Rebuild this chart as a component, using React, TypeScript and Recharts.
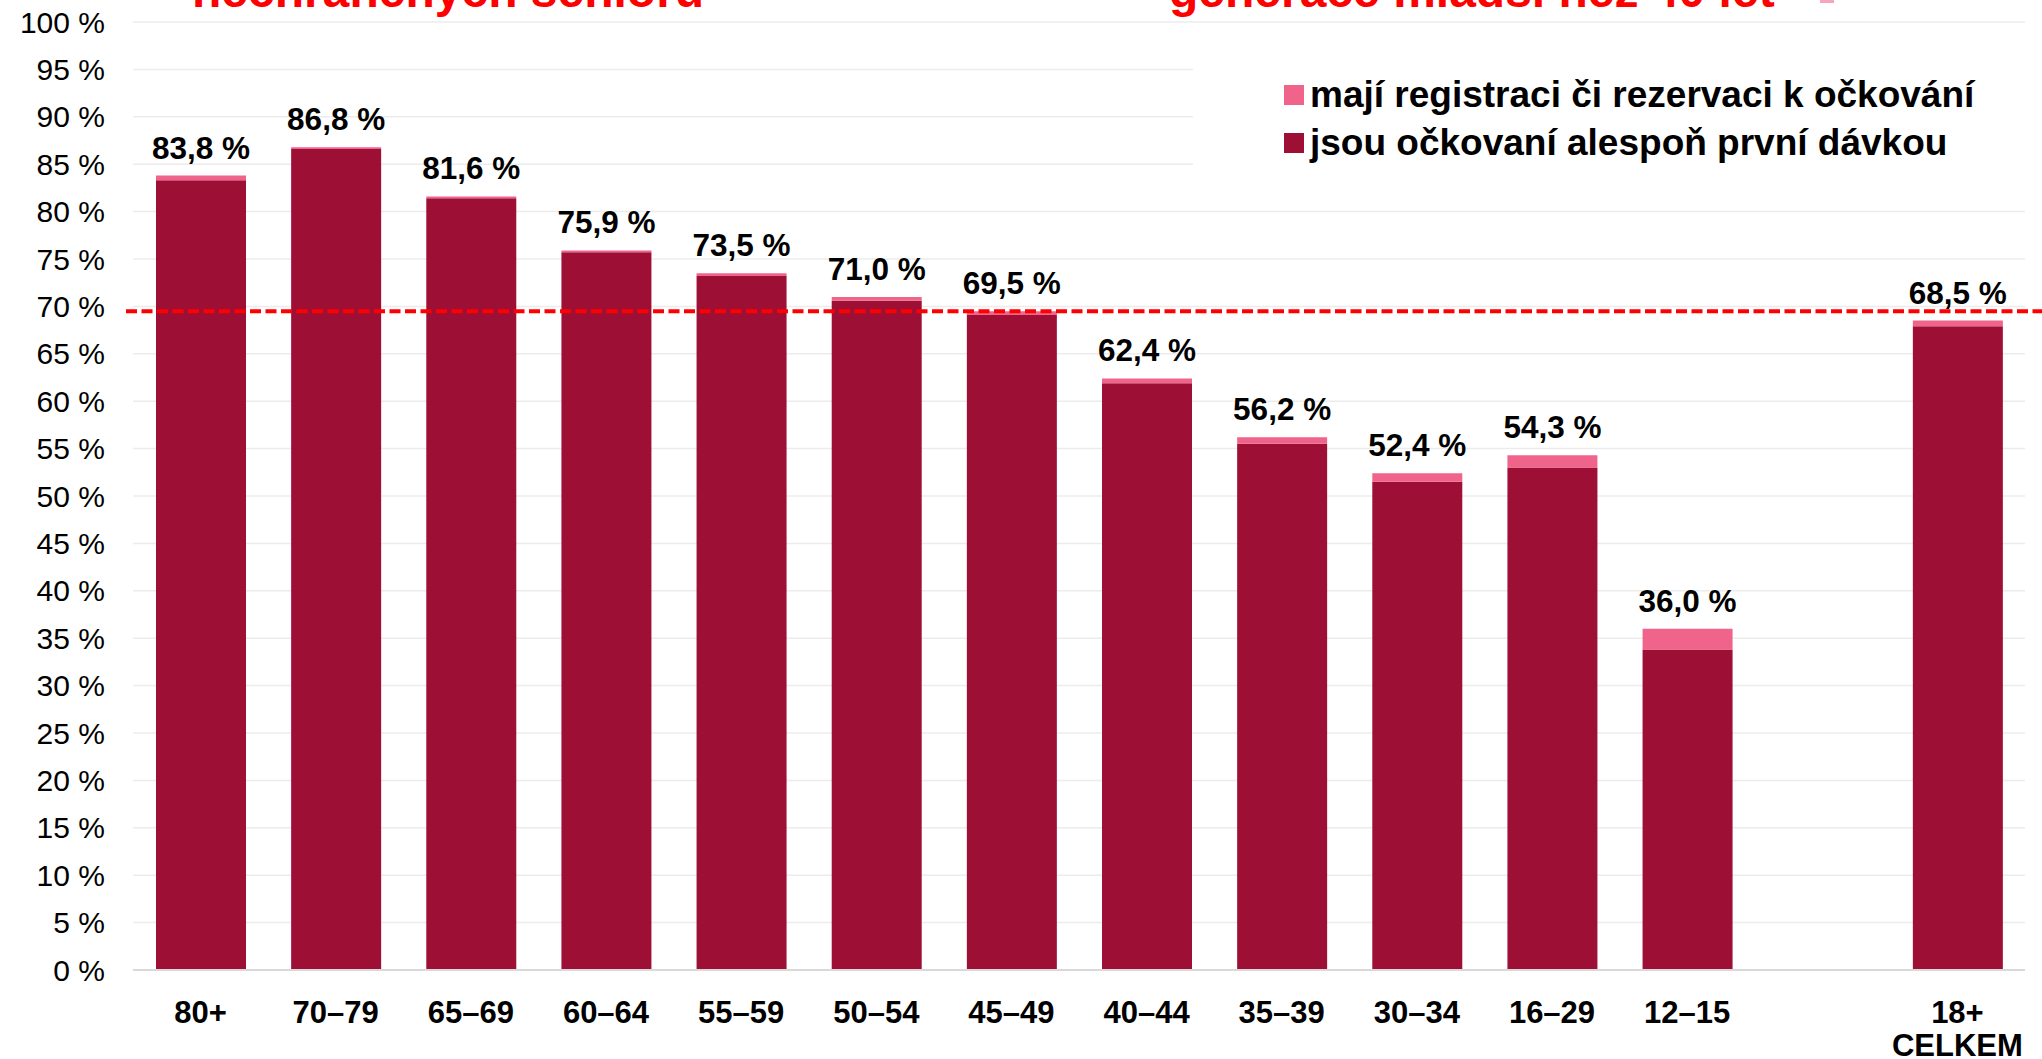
import {
  Bar,
  BarChart,
  CartesianGrid,
  LabelList,
  ReferenceLine,
  XAxis,
  YAxis,
} from "recharts";

const FONT = '"Liberation Sans", Arial, sans-serif';

// age groups; the empty one is the gap before the total column
const ageGroups = [
  "80+",
  "70–79",
  "65–69",
  "60–64",
  "55–59",
  "50–54",
  "45–49",
  "40–44",
  "35–39",
  "30–34",
  "16–29",
  "12–15",
  "",
  "18+\nCELKEM",
];

// vaccinated + registered, as printed over the bars
const totals = [83.8, 86.8, 81.6, 75.9, 73.5, 71.0, 69.5, 62.4, 56.2, 52.4, 54.3, 36.0, null, 68.5];

// vaccinated with at least the first dose
const vaccinated = [83.3, 86.6, 81.4, 75.7, 73.2, 70.6, 69.1, 61.9, 55.5, 51.5, 53.0, 33.8, null, 67.9];

const yTicks = [0, 5, 10, 15, 20, 25, 30, 35, 40, 45, 50, 55, 60, 65, 70, 75, 80, 85, 90, 95, 100];

const targetLine = 69.5;

const DARK = "#9E0F36";
const PINK = "#F0638B";

const seriesInfo = [
  { key: "registered", name: "mají registraci či rezervaci k očkování", color: PINK },
  { key: "vaccinated", name: "jsou očkovaní alespoň první dávkou", color: DARK },
];

const chartData = ageGroups.map((age, i) => {
  const total = totals[i];
  const done = vaccinated[i];
  return {
    age,
    total,
    vaccinated: done,
    registered: total == null || done == null ? null : +(total - done).toFixed(2),
  };
});

function fmtPct(v: unknown): string {
  if (v == null || v === "") return "";
  return `${Number(v).toFixed(1).replace(".", ",")} %`;
}

function AgeTick(props: any) {
  const { x, y, payload } = props;
  const lines = String(payload.value).split("\n");
  return (
    <text
      x={x}
      y={y}
      textAnchor="middle"
      fontSize={31}
      fontWeight={700}
      fill="#000"
      fontFamily={FONT}
    >
      {lines.map((line, i) => (
        <tspan key={i} x={x} dy={i === 0 ? 22 : 33}>
          {line}
        </tspan>
      ))}
    </text>
  );
}

function LegendBox() {
  return (
    <div
      style={{
        position: "absolute",
        left: 1193,
        top: 40,
        width: 849,
        height: 140,
        background: "#fff",
      }}
    >
      {seriesInfo.map((s, i) => (
        <div
          key={s.key}
          style={{
            position: "absolute",
            left: 91,
            top: 31 + i * 48,
            height: 48,
            display: "flex",
            alignItems: "center",
            whiteSpace: "nowrap",
          }}
        >
          <span
            style={{
              display: "inline-block",
              width: 20,
              height: 20,
              background: s.color,
              marginRight: 6,
            }}
          />
          <span
            style={{
              fontFamily: FONT,
              fontSize: 37,
              fontWeight: 700,
              color: "#000",
              lineHeight: "48px",
            }}
          >
            {s.name}
          </span>
        </div>
      ))}
    </div>
  );
}

export default function App() {
  return (
    <div
      style={{
        position: "absolute",
        left: 0,
        top: 0,
        width: 2042,
        height: 1059,
        background: "#fff",
        fontFamily: FONT,
        overflow: "hidden",
      }}
    >
      <BarChart
        width={2042}
        height={1059}
        data={chartData}
        margin={{ top: 22, right: 17, bottom: 0, left: 0 }}
        barSize={90}
      >
        <CartesianGrid vertical={false} stroke="#ececec" strokeWidth={1.5} />
        <XAxis
          dataKey="age"
          interval={0}
          height={89}
          tickLine={false}
          tickSize={0}
          tickMargin={31}
          axisLine={{ stroke: "#d9d9d9", strokeWidth: 2 }}
          tick={<AgeTick />}
        />
        <YAxis
          domain={[0, 100]}
          ticks={yTicks}
          width={133}
          axisLine={false}
          tickLine={false}
          tickSize={0}
          tickMargin={28}
          tickFormatter={(v) => `${v} %`}
          tick={{ fontSize: 30, fill: "#000", fontFamily: FONT }}
        />
        <Bar
          dataKey="vaccinated"
          name={seriesInfo[1].name}
          stackId="a"
          fill={DARK}
          isAnimationActive={false}
        />
        <Bar
          dataKey="registered"
          name={seriesInfo[0].name}
          stackId="a"
          fill={PINK}
          isAnimationActive={false}
        >
          <LabelList
            dataKey="total"
            position="top"
            offset={17}
            formatter={fmtPct}
            style={{ fontSize: 31.5, fontWeight: 700, fill: "#000", fontFamily: FONT }}
          />
        </Bar>
        <ReferenceLine
          y={targetLine}
          ifOverflow="visible"
          shape={(p: any) => (
            <line
              x1={p.x1 - 7}
              x2={p.x2 + 17}
              y1={p.y1}
              y2={p.y2}
              stroke="#FF0000"
              strokeWidth={4}
              strokeDasharray="11 4.5"
            />
          )}
        />
      </BarChart>

      <LegendBox />

      {/* headings of the slide above, cut off by the top edge */}
      <svg
        width={2042}
        height={30}
        style={{ position: "absolute", left: 0, top: 0, pointerEvents: "none" }}
      >
        <text x={192} y={6.5} fontSize={48} fontWeight={700} fill="#FF0000" fontFamily={FONT}>
          nechráněných seniorů
        </text>
        <text x={1169} y={6.5} fontSize={48} fontWeight={700} fill="#FF0000" fontFamily={FONT}>
          generace mladší než 40 let
        </text>
        <rect x={1820} y={0} width={14} height={3} fill="#F4A6BB" />
      </svg>
    </div>
  );
}
